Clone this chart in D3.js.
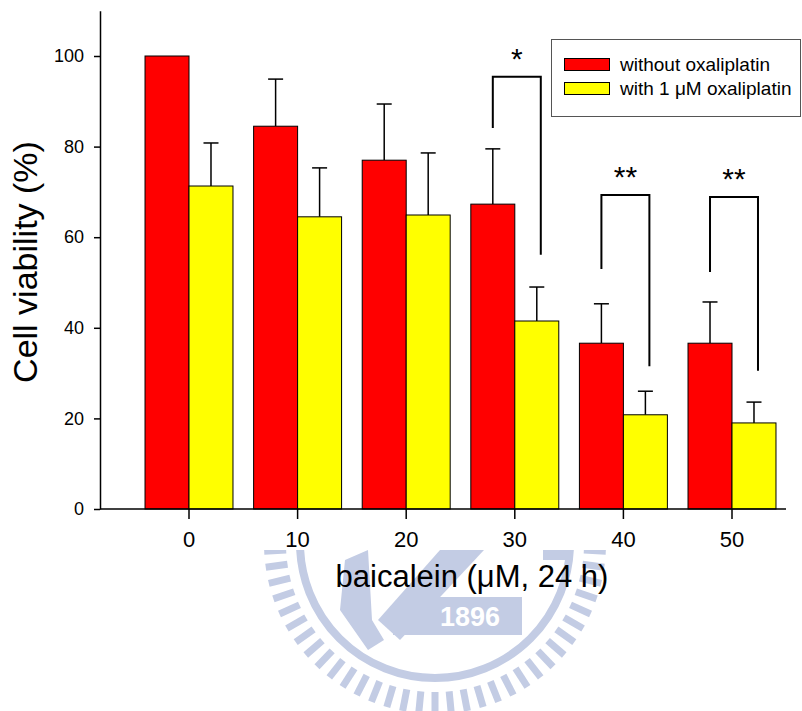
<!DOCTYPE html>
<html>
<head>
<meta charset="utf-8">
<script src="https://cdn.jsdelivr.net/npm/d3@7"></script>
<style>
  html, body { margin: 0; padding: 0; background: #fff; }
  svg { display: block; font-family: "Liberation Sans", Arial, sans-serif; }
</style>
</head>
<body>
<div id="chart"></div>
<script>
// baicalein dose groups (uM)
const doses = ['0', '10', '20', '30', '40', '50'];
const seriesNames = ['without oxaliplatin', 'with 1 \u03bcM oxaliplatin'];
const seriesColors = ['#ff0000', '#ffff00'];

// cell viability (%) and upper error (SD)
const withoutOx = [100, 84.5, 77.0, 67.3, 36.6, 36.6];
const withoutOxErr = [0, 10.4, 12.4, 12.2, 8.7, 9.1];
const withOx = [71.3, 64.5, 64.9, 41.5, 20.8, 19.0];
const withOxErr = [9.5, 10.8, 13.7, 7.5, 5.2, 4.6];

const yTicks = [0, 20, 40, 60, 80, 100];

// significance brackets
const sigDoses = ['30', '40', '50'];
const sigLabels = ['*', '**', '**'];
const sigTop = [95.4, 69.3, 68.9];
const sigLeftEnd = [84.1, 53.0, 52.3];
const sigRightEnd = [56.1, 31.5, 30.5];

const width = 802, height = 711;

const svg = d3.select('#chart').append('svg')
    .attr('width', width)
    .attr('height', height);

// watermark (light logo behind the lower part of the page)
const wm = '#c3cce4';
svg.append('clipPath').attr('id', 'wmclip')
    .append('rect').attr('x', 0).attr('y', 550).attr('width', width).attr('height', height - 550);
const logo = svg.append('g').attr('clip-path', 'url(#wmclip)');
const cx = 435, cy = 543;
const tickAngles = d3.range(0, 360, 360 / 66);
logo.selectAll('rect.tk')
    .data(tickAngles)
    .enter().append('rect')
    .attr('class', 'tk')
    .attr('x', -3.5).attr('y', 149).attr('width', 7).attr('height', 22)
    .attr('fill', wm)
    .attr('transform', d => 'translate(' + cx + ',' + cy + ') rotate(' + d + ')');
logo.append('circle')
    .attr('cx', cx).attr('cy', cy).attr('r', 135)
    .attr('fill', 'none').attr('stroke', wm).attr('stroke-width', 8);
logo.append('path')
    .attr('d', 'M440,550 L484,550 L400,640 L378,620 Z')
    .attr('fill', wm);
logo.append('path')
    .attr('d', 'M405,597 L522,597 L522,635 L393,635 L393,610 Z')
    .attr('fill', wm);
logo.append('path')
    .attr('d', 'M345,560 L368,550 L372,620 L384,640 L368,650 L340,610 Z')
    .attr('fill', wm);
logo.append('path')
    .attr('d', 'M543,550 L566,550 L566,560 L543,560 Z')
    .attr('fill', wm);
logo.append('text')
    .attr('x', 470).attr('y', 626)
    .attr('text-anchor', 'middle')
    .attr('fill', '#fff')
    .style('font-weight', 'bold')
    .style('font-size', '27px')
    .text('1896');

// scales
const x = d3.scaleBand()
    .domain(doses)
    .range([134.7, 786.3])
    .paddingInner(0.19)
    .paddingOuter(0.095);
const bw = x.bandwidth() / 2;

const y = d3.scaleLinear()
    .domain([0, 110])
    .range([509, 10.7]);

// bars
const barData = [];
doses.forEach((d, i) => {
    barData.push({ dose: d, s: 0, value: withoutOx[i], err: withoutOxErr[i] });
    barData.push({ dose: d, s: 1, value: withOx[i], err: withOxErr[i] });
});

const bars = svg.append('g');
bars.selectAll('line.err')
    .data(barData.filter(d => d.err > 0))
    .enter().append('line')
    .attr('x1', d => x(d.dose) + d.s * bw + bw / 2)
    .attr('x2', d => x(d.dose) + d.s * bw + bw / 2)
    .attr('y1', d => y(d.value))
    .attr('y2', d => y(d.value + d.err))
    .attr('stroke', '#000').attr('stroke-width', 1.5);
bars.selectAll('line.cap')
    .data(barData.filter(d => d.err > 0))
    .enter().append('line')
    .attr('x1', d => x(d.dose) + d.s * bw + bw / 2 - 7.5)
    .attr('x2', d => x(d.dose) + d.s * bw + bw / 2 + 7.5)
    .attr('y1', d => y(d.value + d.err))
    .attr('y2', d => y(d.value + d.err))
    .attr('stroke', '#000').attr('stroke-width', 1.5);
bars.selectAll('rect')
    .data(barData)
    .enter().append('rect')
    .attr('x', d => x(d.dose) + d.s * bw)
    .attr('y', d => y(d.value))
    .attr('width', bw)
    .attr('height', d => y(0) - y(d.value))
    .attr('fill', d => seriesColors[d.s])
    .attr('stroke', '#000')
    .attr('stroke-width', 1);

// axes
const yAxis = svg.append('g')
    .attr('transform', 'translate(100,0)')
    .call(d3.axisLeft(y).tickValues(yTicks).tickSize(6).tickPadding(10).tickSizeOuter(0));
yAxis.select('.domain').attr('stroke-width', 1.5);
yAxis.selectAll('.tick line').attr('stroke-width', 1.5);
yAxis.selectAll('.tick text')
    .style('font-size', '18px')
    .attr('fill', '#000');

const xAxis = svg.append('g')
    .attr('transform', 'translate(0,' + y(0) + ')')
    .call(d3.axisBottom(x).tickSize(10).tickPadding(12).tickSizeOuter(0));
xAxis.select('.domain').attr('d', 'M100,0H786').attr('stroke-width', 1.5);
xAxis.selectAll('.tick line').attr('stroke-width', 1.5);
xAxis.selectAll('.tick text')
    .style('font-size', '22px')
    .attr('fill', '#000');

svg.append('text')
    .attr('transform', 'translate(37,262) rotate(-90)')
    .attr('text-anchor', 'middle')
    .style('font-size', '34px')
    .text('Cell viability (%)');

svg.append('text')
    .attr('x', 472).attr('y', 587)
    .attr('text-anchor', 'middle')
    .style('font-size', '31px')
    .text('baicalein (\u03bcM, 24 h)');

// significance brackets
const sig = svg.append('g');
sigDoses.forEach((d, i) => {
    const xl = x(d) + bw / 2;
    const xr = x(d) + bw * 1.5 + 4;
    sig.append('path')
        .attr('d', 'M' + xl + ',' + y(sigLeftEnd[i]) + 'V' + y(sigTop[i]) + 'H' + xr + 'V' + y(sigRightEnd[i]))
        .attr('fill', 'none')
        .attr('stroke', '#000')
        .attr('stroke-width', 2);
    sig.append('text')
        .attr('x', (xl + xr) / 2)
        .attr('y', y(sigTop[i]) - 8)
        .attr('text-anchor', 'middle')
        .style('font-size', '30px')
        .text(sigLabels[i]);
});

// legend
const legend = svg.append('g');
legend.append('rect')
    .attr('x', 551.5).attr('y', 39.5).attr('width', 249).attr('height', 77)
    .attr('fill', '#fff').attr('stroke', '#555').attr('stroke-width', 1);
seriesNames.forEach((name, i) => {
    legend.append('rect')
        .attr('x', 564.5).attr('y', 58.5 + i * 24).attr('width', 45).attr('height', 12)
        .attr('fill', seriesColors[i]).attr('stroke', '#000');
    legend.append('text')
        .attr('x', 620).attr('y', 71 + i * 24)
        .style('font-size', '19px')
        .text(name);
});
</script>
</body>
</html>
